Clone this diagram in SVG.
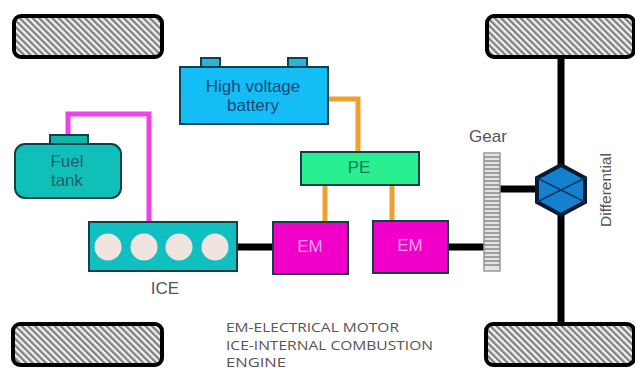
<svg xmlns="http://www.w3.org/2000/svg" width="635" height="371" viewBox="0 0 635 371">
<style>
text{font-family:"Liberation Sans",Arial,sans-serif;text-anchor:middle}
.w{fill:url(#h);stroke:#000;stroke-width:4}
.o{stroke:#f0a030;stroke-width:5;fill:none}
.k{stroke:#000;stroke-width:7;fill:none}
.d{stroke:#10404a;stroke-width:2}
.l{font-size:17px;fill:#1c4a78}
.f{font-size:17px;fill:#1f5f68}
.g{font-size:17px;fill:#555}
.m{font-size:17px;fill:#f4a0e8}
.e{font-family:"Open Sans",sans-serif;font-size:13px;fill:#555;text-anchor:start}
</style>
<defs>
<pattern id="h" width="4.6" height="4.6" patternUnits="userSpaceOnUse" patternTransform="rotate(-45)">
<rect width="4.6" height="4.6" fill="#f2f2f2"/><rect width="2.3" height="4.6" fill="#808080"/>
</pattern>
</defs>
<rect width="635" height="371" fill="#fff"/>
<g id="connectors">
<path d="M68 135V114H149V222" fill="none" stroke="#f040e8" stroke-width="5"/>
<path class="o" d="M328 99H358V152"/>
<path class="o" d="M325 185V222"/>
<path class="o" d="M392 185V222"/>
<path class="k" d="M238 247H273"/>
<path class="k" d="M448 247H484"/>
<path class="k" d="M500 189H540"/>
<path class="k" d="M561 55V166M561 214V325"/>
</g>
<g id="wheel-tl"><rect class="w" x="14" y="16" width="148" height="41" rx="7"/></g>
<g id="wheel-bl"><rect class="w" x="13" y="324" width="149" height="41" rx="7"/></g>
<g id="wheel-tr"><rect class="w" x="487" y="16" width="147" height="41" rx="7"/></g>
<g id="wheel-br"><rect class="w" x="486" y="324" width="148" height="41" rx="7"/></g>
<g id="battery">
<rect x="201" y="58" width="19" height="10" fill="#2ab4d8" class="d"/>
<rect x="288" y="58" width="19" height="10" fill="#2ab4d8" class="d"/>
<rect x="180" y="67" width="148" height="57" fill="#14bdf5" class="d"/>
<text class="l" x="253" y="92">High voltage</text>
<text class="l" x="253" y="111">battery</text>
</g>
<g id="fuel-tank">
<rect x="50" y="135" width="38" height="10" fill="#10b5a8" class="d"/>
<rect x="15" y="144" width="106" height="54" rx="10" fill="#10c0b8" class="d"/>
<text class="f" x="67" y="167">Fuel</text>
<text class="f" x="67" y="186">tank</text>
</g>
<g id="pe">
<rect x="301" y="152" width="118" height="33" fill="#28f090" class="d"/>
<text class="f" x="359" y="173" style="fill:#1a7a58">PE</text>
</g>
<g id="ice">
<rect x="89" y="222" width="148" height="49" fill="#10c0c0" class="d"/>
<circle cx="108" cy="247" r="13.5" fill="#f0e4e0"/>
<circle cx="144" cy="247" r="13.5" fill="#f0e4e0"/>
<circle cx="179" cy="247" r="13.5" fill="#f0e4e0"/>
<circle cx="215" cy="247" r="13.5" fill="#f0e4e0"/>
<text class="g" x="165" y="294">ICE</text>
</g>
<g id="em1">
<rect x="273" y="222" width="75" height="52" fill="#f000c8" class="d"/>
<text class="m" x="310" y="252">EM</text>
</g>
<g id="em2">
<rect x="373" y="221" width="75" height="52" fill="#f000c8" class="d"/>
<text class="m" x="410" y="251">EM</text>
</g>
<g id="gear">
<rect x="484" y="153" width="16" height="118" fill="#e4e4e4" stroke="#999" stroke-width="1.5"/>
<path d="M484 157H500M484 161H500M484 165H500M484 169H500M484 173H500M484 177H500M484 181H500M484 185H500M484 189H500M484 193H500M484 197H500M484 201H500M484 205H500M484 209H500M484 213H500M484 217H500M484 221H500M484 225H500M484 229H500M484 233H500M484 237H500M484 241H500M484 245H500M484 249H500M484 253H500M484 257H500M484 261H500M484 265H500" stroke="#888" stroke-width="1.5"/>
<text class="g" x="488" y="142">Gear</text>
</g>
<g id="differential">
<polygon points="561,165 585,178 585,202 561,215 537,202 537,178" fill="#1580d0" stroke="#061a30" stroke-width="4"/>
<path d="M537 178L585 202M585 178L537 202" stroke="#0c3a66" stroke-width="1.5"/>
<text class="g" style="font-size:15.5px" transform="translate(611 190) rotate(-90)">Differential</text>
</g>
<g id="legend">
<text class="e" x="226" y="332" textLength="173" lengthAdjust="spacingAndGlyphs">EM-ELECTRICAL MOTOR</text>
<text class="e" x="226" y="350" textLength="207" lengthAdjust="spacingAndGlyphs">ICE-INTERNAL COMBUSTION</text>
<text class="e" x="226" y="367" textLength="60" lengthAdjust="spacingAndGlyphs">ENGINE</text>
</g>
</svg>
